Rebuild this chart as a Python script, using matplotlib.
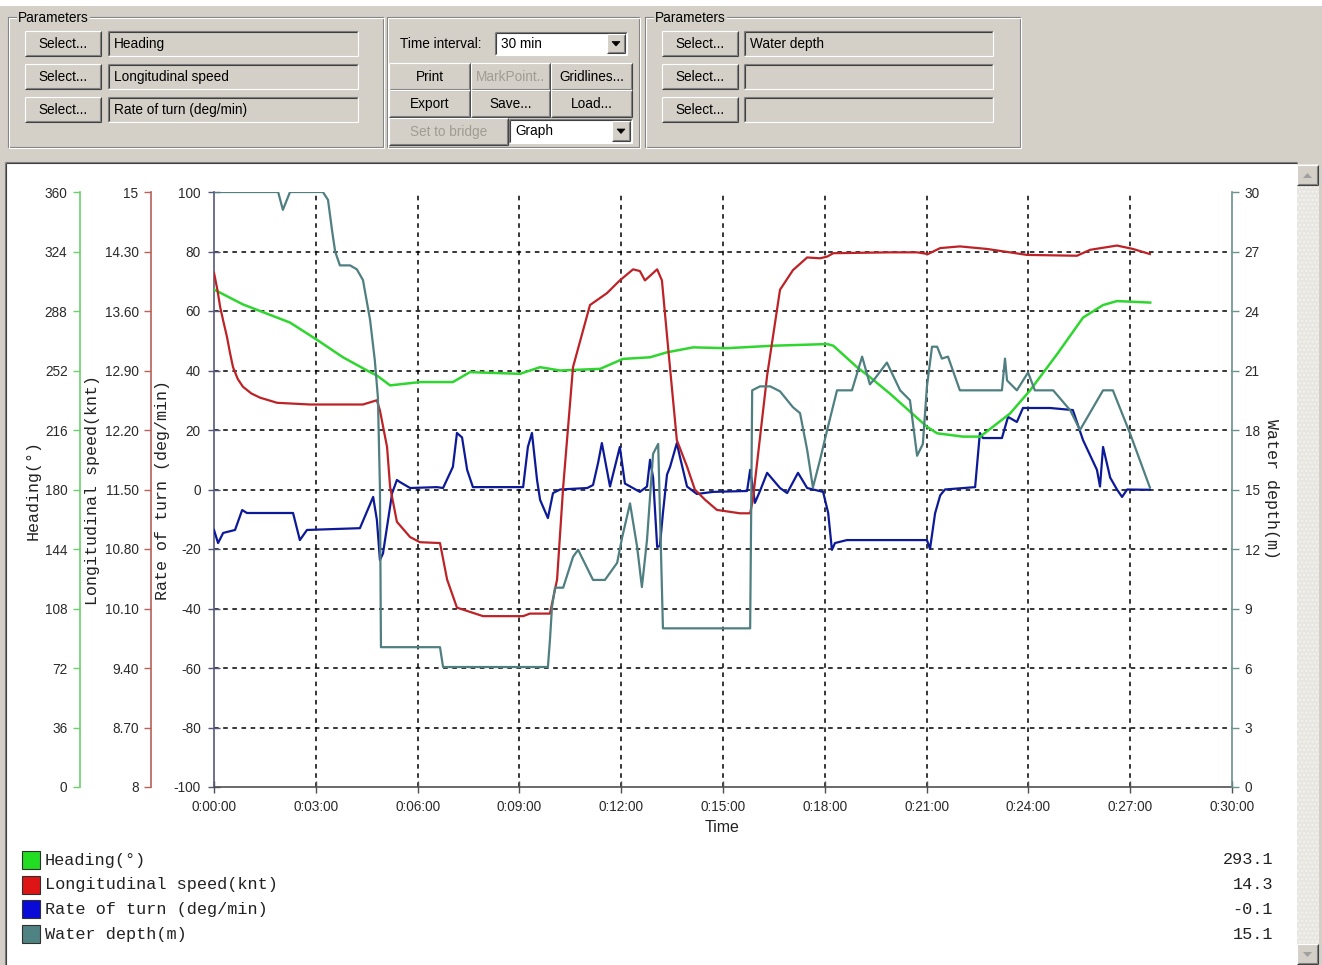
import matplotlib
matplotlib.use("Agg")
import matplotlib.pyplot as plt
from matplotlib.patches import Rectangle, Polygon
import numpy as np

# ---------------- data (time in minutes from start) ----------------
heading_t = [0.00, 0.85, 2.24, 3.04, 3.80, 4.60, 4.80, 5.19, 6.07, 7.04, 7.54, 9.02, 9.61,
             10.20, 11.38, 12.05, 12.85, 13.35, 14.12, 15.12, 16.48, 18.07, 18.25, 18.95,
             19.33, 19.92, 21.01, 21.31, 22.07, 22.58, 23.46, 24.05, 24.85, 25.61, 26.20,
             26.61, 27.59]
heading = [301, 292, 281, 270.5, 260, 251, 249, 243, 245, 245, 251, 250, 254,
           252, 253, 259, 260, 263, 266, 265.5, 267, 268, 267, 254,
           248, 238, 218, 214, 212, 212, 226, 240, 262, 284, 291.6,
           294, 293.1]

speed_t = [0.00, 0.10, 0.18, 0.28, 0.38, 0.47, 0.56, 0.70, 0.85, 1.10, 1.36, 1.86, 2.83,
           4.39, 4.80, 4.89, 5.10, 5.19, 5.39, 5.78, 6.07, 6.66, 6.87, 7.16, 7.93, 9.11,
           9.31, 9.90, 10.11, 10.29, 10.58, 11.08, 11.58, 11.96, 12.35, 12.55, 12.70,
           13.06, 13.20, 13.38, 13.64, 13.94, 14.17, 14.47, 14.82, 15.50, 15.80, 15.88,
           16.30, 16.68, 17.06, 17.48, 17.86, 18.07, 18.25, 19.92, 20.72, 21.04, 21.40,
           21.98, 22.78, 23.96, 25.43, 25.82, 26.61, 27.08, 27.58]
speed = [14.05, 13.85, 13.65, 13.47, 13.30, 13.11, 12.94, 12.80, 12.71, 12.63, 12.58, 12.52, 12.50,
         12.50, 12.55, 12.43, 12.00, 11.53, 11.12, 10.94, 10.88, 10.87, 10.44, 10.11, 10.01, 10.01,
         10.04, 10.04, 10.44, 11.53, 12.94, 13.67, 13.81, 13.96, 14.09, 14.07, 13.96,
         14.09, 13.96, 13.18, 12.08, 11.77, 11.50, 11.38, 11.26, 11.22, 11.22, 11.38,
         12.84, 13.85, 14.08, 14.23, 14.22, 14.24, 14.28, 14.29, 14.29, 14.27, 14.34,
         14.36, 14.33, 14.26, 14.25, 14.32, 14.37, 14.33, 14.27]

rot_t = [0.00, 0.12, 0.27, 0.62, 0.83, 0.97, 2.33, 2.53, 2.74, 4.30, 4.69, 4.80, 4.89,
         4.98, 5.25, 5.39, 5.48, 5.78, 6.57, 6.75, 7.04, 7.16, 7.31, 7.46, 7.63, 9.11,
         9.25, 9.37, 9.52, 9.61, 9.84, 9.99, 10.20, 11.00, 11.17, 11.32, 11.43, 11.67,
         11.96, 12.11, 12.55, 12.76, 12.85, 12.94, 13.06, 13.14, 13.23, 13.35, 13.44,
         13.64, 13.73, 13.94, 14.23, 14.71, 15.71, 15.80, 15.88, 15.94, 16.09, 16.30,
         16.68, 16.89, 17.21, 17.48, 17.95, 18.10, 18.21, 18.30, 18.65, 19.92, 21.01,
         21.10, 21.25, 21.40, 21.54, 22.43, 22.57, 22.66, 23.22, 23.40, 23.66, 23.84,
         24.64, 25.31, 25.61, 26.02, 26.11, 26.20, 26.41, 26.61, 26.76, 26.91, 27.58]
rot = [-13.6, -18, -14.6, -13.6, -6.9, -7.9, -7.9, -17, -13.6, -13, -2.5, -10.2, -23.7,
       -21.5, -1.2, 3.2, 2.5, 0.5, 0.8, 0.5, 7.6, 19, 17.5, 6.6, 0.8, 0.8,
       14.3, 19, 3.2, -3.5, -9.6, -1.2, 0, 0.5, 1.5, 9, 15.6, 1,
       14.3, 2, -0.8, 1, 10, 4, -19.3, -19, -7.9, 5, 7.6,
       15.6, 11, 1, -1.5, -0.8, -0.5, 6.6, 0.5, -4.5, -0.5, 5.6,
       0.5, -1.2, 5.6, 0.5, -0.8, -7.9, -20.3, -18, -17, -17, -17,
       -20, -8, -2, 0, 0.8, 19, 17.3, 17.3, 24.4, 22.7, 27.4,
       27.4, 26.7, 16.6, 6.6, 1, 14.3, 4, 0, -2.5, 0, -0.1]

depth_t = [0.00, 1.89, 2.03, 2.24, 3.21, 3.36, 3.48, 3.57, 3.71, 4.01, 4.21, 4.39, 4.60,
           4.74, 4.83, 4.89, 4.92, 6.66, 6.75, 9.84, 9.90, 9.96, 10.05, 10.29, 10.58,
           10.73, 11.17, 11.52, 11.88, 12.03, 12.26, 12.47, 12.61, 12.76, 12.94, 13.09,
           13.17, 13.23, 15.80, 15.83, 15.86, 16.09, 16.39, 16.68, 17.06, 17.27, 17.48,
           17.65, 17.86, 18.07, 18.36, 18.80, 19.10, 19.33, 19.48, 19.83, 20.22, 20.51,
           20.72, 20.89, 21.01, 21.16, 21.31, 21.45, 21.63, 21.98, 23.22, 23.31, 23.37,
           23.66, 23.99, 24.19, 24.73, 25.23, 25.52, 26.20, 26.49, 26.99, 27.58]
depth = [30, 30, 29.1, 30, 30, 29.6, 28.05, 27.0, 26.3, 26.3, 26.1, 25.56, 23.55,
         21.5, 19.65, 15.1, 7.05, 7.05, 6.05, 6.05, 7.4, 9.07, 10.05, 10.05, 11.6,
         11.96, 10.44, 10.44, 11.3, 12.6, 14.3, 12.1, 10.08, 12.45, 16.8, 17.3,
         12.0, 8.0, 8.0, 13.8, 20.0, 20.2, 20.2, 19.95, 19.15, 18.85, 17.0,
         15.1, 16.5, 18.0, 20.0, 20.0, 21.7, 20.3, 20.6, 21.4, 20.0, 19.5,
         16.7, 17.3, 20.2, 22.2, 22.2, 21.6, 21.7, 20.0, 20.0, 21.6, 20.5,
         20.0, 20.9, 20.0, 20.0, 19.0, 18.0, 20.0, 20.0, 17.85, 15.1]

series_names = ["Heading(°)", "Longitudinal speed(knt)", "Rate of turn (deg/min)", "Water depth(m)"]
current_values = ["293.1", "14.3", "-0.1", "15.1"]

time_ticks = [0, 3, 6, 9, 12, 15, 18, 21, 24, 27, 30]
time_tick_labels = ["0:00:00", "0:03:00", "0:06:00", "0:09:00", "0:12:00", "0:15:00",
                    "0:18:00", "0:21:00", "0:24:00", "0:27:00", "0:30:00"]
heading_ticks = [0, 36, 72, 108, 144, 180, 216, 252, 288, 324, 360]
speed_ticks = [8, 8.7, 9.4, 10.1, 10.8, 11.5, 12.2, 12.9, 13.6, 14.3, 15]
speed_tick_labels = ["8", "8.70", "9.40", "10.10", "10.80", "11.50", "12.20", "12.90",
                     "13.60", "14.30", "15"]
rot_ticks = [-100, -80, -60, -40, -20, 0, 20, 40, 60, 80, 100]
depth_ticks = [0, 3, 6, 9, 12, 15, 18, 21, 24, 27, 30]

left_params = ["Heading", "Longitudinal speed", "Rate of turn (deg/min)"]
right_params = ["Water depth", "", ""]

# ---------------- styles ----------------
C_HEAD = "#2fd62f"
C_SPEED = "#bd2226"
C_ROT = "#0d1a98"
C_DEPTH = "#4f7f80"
BOX_COLORS = ["#22dd22", "#dd1515", "#0a0ad8", "#4f8282"]
FACE = "#d4d0c8"
SANS = "Liberation Sans"
MONO = "Liberation Mono"

W, H = 1322, 965
fig = plt.figure(figsize=(W / 100, H / 100), dpi=100, facecolor=FACE)

# ---------------- window chrome (pixel coords, y down) ----------------
ui = fig.add_axes([0, 0, 1, 1], zorder=0)
ui.set_xlim(0, W)
ui.set_ylim(H, 0)
ui.axis("off")
ui.set_autoscale_on(False)

ui.add_patch(Rectangle((0, 0), W, 6, facecolor="white", edgecolor="none"))


def hline(x0, x1, y, c):
    ui.plot([x0, x1], [y, y], color=c, lw=0.8, solid_capstyle="butt")


def vline(x, y0, y1, c):
    ui.plot([x, x], [y0, y1], color=c, lw=0.8, solid_capstyle="butt")


def button(x, y, w, h, label, enabled=True):
    ui.add_patch(Rectangle((x, y), w, h, facecolor=FACE, edgecolor="none"))
    hline(x, x + w, y, "white")
    vline(x, y, y + h, "white")
    hline(x, x + w, y + h, "#404040")
    vline(x + w, y, y + h, "#404040")
    hline(x + 1, x + w - 1, y + h - 1, "#808080")
    vline(x + w - 1, y + 1, y + h - 1, "#808080")
    ui.text(x + w / 2, y + h / 2 + 0.5, label, ha="center", va="center",
            fontsize=9.8, family=SANS, color="black" if enabled else "#a09c94")


def field(x, y, w, h, label, fill=FACE):
    ui.add_patch(Rectangle((x, y), w, h, facecolor=fill, edgecolor="none"))
    hline(x, x + w, y, "#808080")
    vline(x, y, y + h, "#808080")
    hline(x + 1, x + w - 1, y + 1, "#404040")
    vline(x + 1, y + 1, y + h - 1, "#404040")
    hline(x, x + w, y + h, "white")
    vline(x + w, y, y + h, "white")
    ui.text(x + 6, y + h / 2 + 0.5, label, ha="left", va="center",
            fontsize=9.8, family=SANS, color="black")


def combo(x, y, w, h, label):
    field(x, y, w, h, label, fill="white")
    bx = x + w - 20
    button(bx, y + 2, 18, h - 4, "")
    cx, cy = bx + 9, y + h / 2
    ui.add_patch(Polygon([[cx - 4, cy - 2], [cx + 4, cy - 2], [cx, cy + 2.5]],
                         closed=True, facecolor="black", edgecolor="black", lw=0.5))


def group(x, y, w, h, title=None):
    ui.add_patch(Rectangle((x, y), w, h, facecolor="none", edgecolor="#808080", lw=0.8))
    ui.add_patch(Rectangle((x + 1, y + 1), w, h, facecolor="none", edgecolor="white", lw=0.8))
    if title:
        ui.text(x + 10, y + 1, title, ha="left", va="center", fontsize=9.8, family=SANS,
                color="black", bbox=dict(facecolor=FACE, edgecolor="none", pad=1))


group(8, 17, 375, 130, "Parameters")
group(387, 17, 252, 130)
group(645, 17, 375, 130, "Parameters")

for i, name in enumerate(left_params):
    y = 31 + i * 33
    button(25, y, 76, 25, "Select...")
    field(108, y, 250, 25, name)
for i, name in enumerate(right_params):
    y = 31 + i * 33
    button(662, y, 76, 25, "Select...")
    field(744, y, 249, 25, name)

ui.text(400, 44, "Time interval:", ha="left", va="center", fontsize=9.8, family=SANS)
combo(495, 32, 132, 23, "30 min")
button(389, 63, 81, 27, "Print")
button(471, 63, 79, 27, "MarkPoint..", enabled=False)
button(551, 63, 81, 27, "Gridlines...")
button(389, 90, 81, 27, "Export")
button(471, 90, 79, 27, "Save...")
button(551, 90, 81, 27, "Load...")
button(389, 118, 119, 27, "Set to bridge", enabled=False)
combo(509, 119, 123, 24, "Graph")

# chart panel + scrollbar
ui.add_patch(Rectangle((5, 162), 1292, H - 162, facecolor="white", edgecolor="none"))
hline(5, 1297, 162, "#808080")
vline(5, 162, H, "#808080")
hline(6, 1297, 163, "#404040")
vline(6, 163, H, "#404040")
ui.add_patch(Rectangle((1297, 164), 22, H - 164, facecolor="#e8e6e1", edgecolor="#f4f3f0",
                       hatch="....", lw=0))
button(1297, 165, 21, 20, "")
button(1297, 944, 21, 20, "")
ui.add_patch(Polygon([[1303, 178], [1312, 178], [1307.5, 173]], closed=True, facecolor="#a0a0a0",
                     edgecolor="none"))
ui.add_patch(Polygon([[1303, 952], [1312, 952], [1307.5, 957]], closed=True, facecolor="#a0a0a0",
                     edgecolor="none"))

# axis titles
ui.text(33, 490, series_names[0], rotation=90, ha="center", va="center", fontsize=12,
        family=MONO, color="#222222")
ui.text(93, 490, series_names[1], rotation=90, ha="center", va="center", fontsize=12,
        family=MONO, color="#222222")
ui.text(163, 490, series_names[2], rotation=90, ha="center", va="center", fontsize=12,
        family=MONO, color="#222222")
ui.text(1271, 489, series_names[3], rotation=270, ha="center", va="center", fontsize=12,
        family=MONO, color="#222222")
ui.text(722, 827, "Time", ha="center", va="center", fontsize=11.5, family=SANS, color="#222222")

# legend
for i, (name, col, val) in enumerate(zip(series_names, BOX_COLORS, current_values)):
    yc = 860 + i * 24.7
    ui.add_patch(Rectangle((22, yc - 9), 18, 18, facecolor=col, edgecolor="#303030", lw=0.8))
    ui.text(45, yc, name, ha="left", va="center", fontsize=12.2, family=MONO, color="#222222")
    ui.text(1273, yc, val, ha="right", va="center", fontsize=12.2, family=MONO, color="#222222")

# ---------------- plot axes ----------------
x0, x1, y_top, y_bot = 214, 1232, 192, 787
ax = fig.add_axes([x0 / W, (H - y_bot) / H, (x1 - x0) / W, (y_bot - y_top) / H], zorder=2)
ax.patch.set_visible(False)
ax.set_xlim(0, 30)
ax.set_ylim(-100, 100)

for v in time_ticks[1:-1]:
    ax.axvline(v, color="black", lw=1.1, dashes=(3, 3), zorder=1)
for v in rot_ticks[1:-1]:
    ax.axhline(v, color="black", lw=1.1, dashes=(3, 3), zorder=1)

ax.spines["top"].set_visible(False)
ax.spines["right"].set_visible(False)
ax.spines["left"].set_color("#55587a")
ax.spines["bottom"].set_color("#505050")
ax.spines["left"].set_linewidth(1.2)
ax.spines["bottom"].set_linewidth(1.2)
ax.set_xticks(time_ticks)
ax.set_xticklabels(time_tick_labels)
ax.set_yticks(rot_ticks)
ax.set_yticklabels([str(v) for v in rot_ticks])
ax.tick_params(axis="x", direction="inout", length=9, width=1, color="#505050", pad=5,
               labelsize=9.8, labelcolor="#2a2a2a")
ax.tick_params(axis="y", direction="inout", length=9, width=1, color="#55587a", pad=5,
               labelsize=9.8, labelcolor="#2a2a2a")
for lab in ax.get_xticklabels() + ax.get_yticklabels():
    lab.set_family(SANS)

ax.plot(rot_t, rot, color=C_ROT, lw=1.6, zorder=3)


def side_axis(lim, ticks, labels, spine_pos, color, side="left"):
    tw = ax.twinx()
    tw.set_zorder(2)
    tw.patch.set_visible(False)
    tw.set_ylim(*lim)
    for s in tw.spines.values():
        s.set_visible(False)
    tw.spines[side].set_visible(True)
    tw.spines[side].set_position(("axes", spine_pos))
    tw.spines[side].set_color(color)
    tw.spines[side].set_linewidth(1.2)
    tw.yaxis.set_ticks_position(side)
    tw.set_yticks(ticks)
    tw.set_yticklabels(labels)
    tw.tick_params(axis="y", direction="out", length=5, width=1, color=color, pad=4,
                   labelsize=9.8, labelcolor="#2a2a2a")
    for lab in tw.get_yticklabels():
        lab.set_family(SANS)
    return tw


ax_h = side_axis((0, 360), heading_ticks, [str(v) for v in heading_ticks],
                 (80 - x0) / (x1 - x0), "#6cd06c")
ax_s = side_axis((8, 15), speed_ticks, speed_tick_labels,
                 (151 - x0) / (x1 - x0), "#b8605a")
ax_d = side_axis((0, 30), depth_ticks, [str(v) for v in depth_ticks], 1.0, "#6a9090",
                 side="right")

ax_d.plot(depth_t, depth, color=C_DEPTH, lw=1.6)
ax_s.plot(speed_t, speed, color=C_SPEED, lw=1.6)
ax_h.plot(heading_t, heading, color=C_HEAD, lw=1.8)

fig.savefig("out.png", dpi=100, facecolor=FACE)
